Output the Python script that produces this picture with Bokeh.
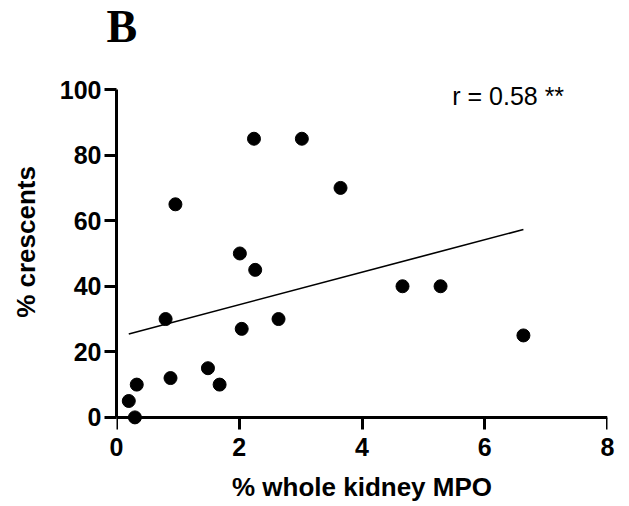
import numpy as np
from bokeh.plotting import figure
from bokeh.models import Range1d, Label, FixedTicker, ColumnDataSource, LinearAxis
from bokeh.embed import file_html
from bokeh.resources import INLINE

# Data
mpo = [0.20, 0.30, 0.33, 0.80, 0.88, 0.96, 1.49, 1.68, 2.01, 2.04, 2.24, 2.26,
       2.64, 3.02, 3.65, 4.66, 5.28, 6.63]
crescents = [5, 0, 10, 30, 12, 65, 15, 10, 50, 27, 85, 45, 30, 85, 70, 40, 40, 25]
x_ticks = [0, 2, 4, 6, 8]
y_ticks = [0, 20, 40, 60, 80, 100]
panel_label = "B"
r_text = "r = 0.58 **"
x_title = "% whole kidney MPO"
y_title = "% crescents"

FONT = "Liberation Sans"

p = figure(width=629, height=506, output_backend="svg", toolbar_location=None,
           x_range=Range1d(0, 8), y_range=Range1d(-4, 111),
           min_border_left=116, min_border_right=22,
           min_border_top=0, min_border_bottom=76,
           background_fill_color="white", border_fill_color="white",
           outline_line_color=None)
p.grid.visible = False

p.title.text = panel_label
p.title.text_font = "Liberation Serif"
p.title.text_font_style = "bold"
p.title.text_font_size = "46px"
p.title.text_color = "black"
p.title.align = "left"
p.title.vertical_align = "top"
p.title.offset = -10
p.title.standoff = 0

# scatter points
src = ColumnDataSource(dict(x=mpo, y=crescents))
p.scatter("x", "y", source=src, size=13, color="black")

# linear regression line over the data extent
slope, intercept = np.polyfit(mpo, crescents, 1)
xl = [min(mpo), max(mpo)]
yl = [slope * v + intercept for v in xl]
p.line(xl, yl, line_color="black", line_width=1.6)

p.add_layout(Label(x=5.47, y=98.1, text=r_text, text_font=FONT,
                   text_font_size="25px", text_color="black",
                   text_baseline="alphabetic", text_align="left"))

def style(ax):
    ax.axis_line_width = 3
    ax.axis_line_color = "black"
    ax.major_tick_line_width = 3
    ax.major_tick_line_color = "black"
    ax.minor_tick_line_color = None
    ax.major_label_text_font = FONT
    ax.major_label_text_font_style = "bold"
    ax.major_label_text_font_size = "25px"
    ax.major_label_text_color = "black"
    ax.axis_label_text_font = FONT
    ax.axis_label_text_font_style = "bold"
    ax.axis_label_text_font_size = "26px"
    ax.axis_label_text_color = "black"

# y axis
yax = p.yaxis[0]
style(yax)
yax.ticker = FixedTicker(ticks=y_ticks)
yax.bounds = (0, 100)
yax.major_tick_out = 12
yax.major_tick_in = 0
yax.major_label_standoff = 3
yax.axis_label = y_title
yax.axis_label_standoff = 16

# bottom axis: labels only (at frame bottom)
xax = p.xaxis[0]
style(xax)
xax.ticker = FixedTicker(ticks=x_ticks)
xax.axis_line_color = None
xax.major_tick_line_color = None
xax.major_tick_out = 0
xax.major_tick_in = 0
xax.major_label_standoff = 7
xax.axis_label = x_title
xax.axis_label_standoff = 13

# axis line and downward ticks at y = 0
xline = LinearAxis(ticker=FixedTicker(ticks=x_ticks), fixed_location=0, bounds=(0, 8))
style(xline)
xline.major_tick_out = 0
xline.major_tick_in = 12
xline.major_label_text_color = None
xline.major_label_text_font_size = "0px"
xline.major_label_standoff = 0
p.add_layout(xline, "above")

open("out.html", "w").write(file_html(p, INLINE))
